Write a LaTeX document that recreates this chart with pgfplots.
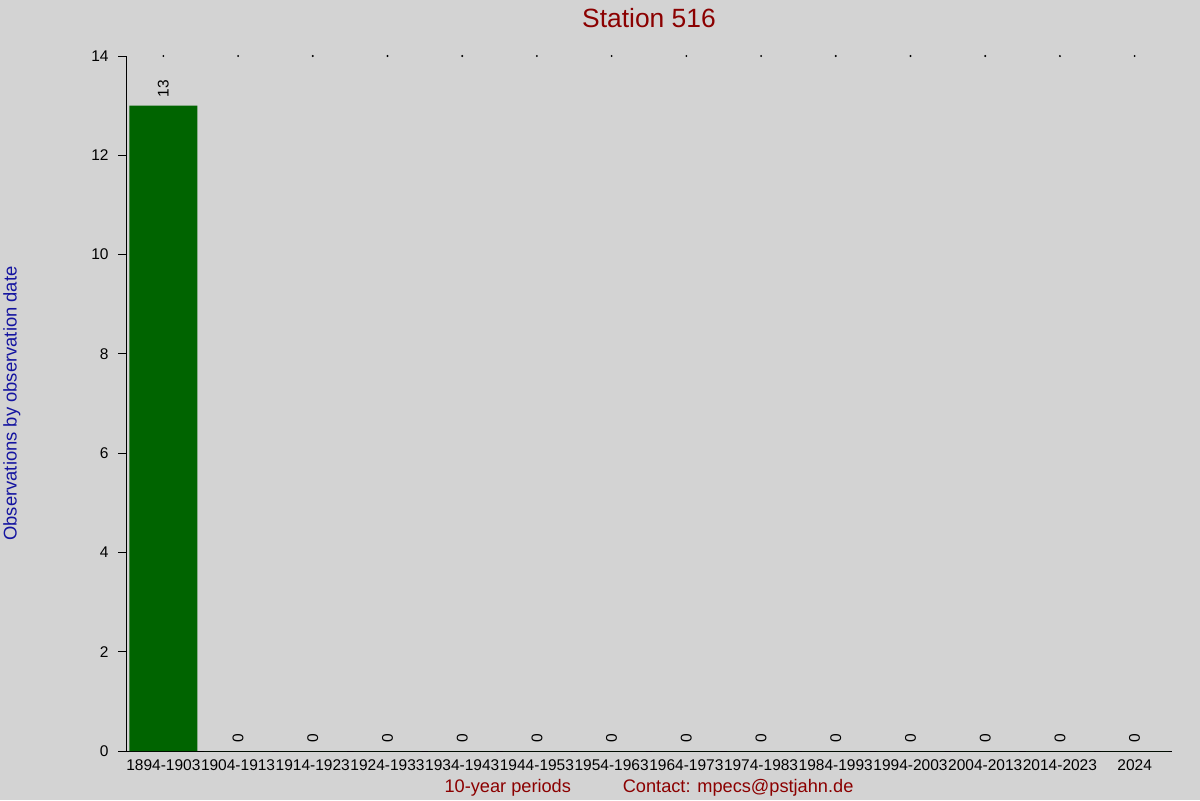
\documentclass[border=0pt]{standalone}
\usepackage{pgfplots}
\pgfplotsset{compat=1.18}
\usepackage{fontspec}
\setmainfont{Liberation Sans}
\definecolor{bgcol}{RGB}{211,211,211}
\definecolor{titlered}{RGB}{139,0,0}
\definecolor{ylabblue}{RGB}{20,20,160}
\definecolor{bargreen}{RGB}{0,100,0}
\begin{document}
\begin{tikzpicture}
\fill[bgcol] (0,0) rectangle (600pt,400pt);
\useasboundingbox (0,0) rectangle (600pt,400pt);
\begin{axis}[
  at={(63pt,24.5pt)}, anchor=south west,
  scale only axis, width=523pt, height=347.5pt,
  clip=false,
  xmin=-0.5, xmax=13.5, ymin=0, ymax=14,
  axis x line*=bottom, axis y line*=left,
  axis line style={line width=0.5pt, black, -},
  xtick={0,...,13},
  xticklabels={1894-1903,1904-1913,1914-1923,1924-1933,1934-1943,1944-1953,1954-1963,1964-1973,1974-1983,1984-1993,1994-2003,2004-2013,2014-2023,2024},
  ytick={0,2,...,14},
  xtick style={draw=none},
  ytick style={line width=0.5pt, black},
  tick align=outside, major tick length=4pt,
  /pgf/number format/assume math mode=true,
  tick label style={font=\fontsize{7.75}{8}\selectfont, black},
  xticklabel style={inner sep=0pt, anchor=north, yshift=0pt},
  yticklabel style={inner sep=0pt, anchor=east, xshift=-4.5pt},
  xlabel={10-year periods\hspace{2.85em}Contact: mpecs@pstjahn.de},
  xlabel style={at={(axis description cs:0.5,-0.059)}, anchor=base, font=\fontsize{9.1}{10}\selectfont, text=titlered},
  ylabel={Observations by observation date},
  ylabel style={at={(axis description cs:-0.1045,0.5)}, anchor=base, rotate=0, font=\fontsize{9.2}{10}\selectfont, text=ylabblue},
]
\addplot[ybar, bar width=34pt, fill=bargreen, draw=none,
  nodes near coords,
  every node near coord/.append style={rotate=90, anchor=west, inner xsep=4pt, inner ysep=0pt, font=\fontsize{7.75}{8}\selectfont, text=black}]
  coordinates {(0,13) (1,0) (2,0) (3,0) (4,0) (5,0) (6,0) (7,0) (8,0) (9,0) (10,0) (11,0) (12,0) (13,0)};
\addplot[only marks, mark=*, mark size=0.25pt, black]
  coordinates {(0,14) (1,14) (2,14) (3,14) (4,14) (5,14) (6,14) (7,14) (8,14) (9,14) (10,14) (11,14) (12,14) (13,14)};
\node[anchor=base, inner sep=0pt, font=\fontsize{13.2}{14}\selectfont, text=titlered] at (axis description cs:0.5,1.0417) {Station 516};
\end{axis}
\end{tikzpicture}
\end{document}
